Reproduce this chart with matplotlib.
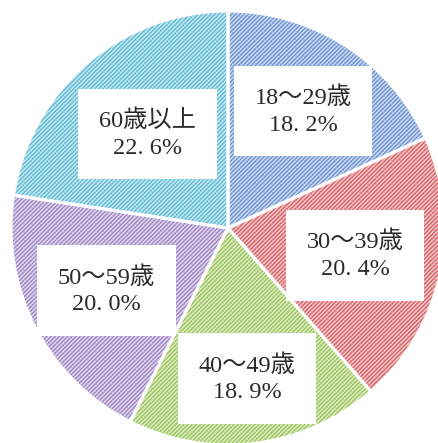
import numpy as np
import matplotlib
matplotlib.use("Agg")
import matplotlib.pyplot as plt

plt.rcParams['font.family'] = ['Liberation Serif', 'Noto Sans CJK JP', 'DejaVu Sans']
plt.rcParams['hatch.linewidth'] = 0.9

# age groups and shares (%)
labels = ["18～29歳", "30～39歳", "40～49歳", "50～59歳", "60歳以上"]
shares = [18.2, 20.4, 18.9, 20.0, 22.6]
face_colors = ["#c8d6ef", "#f2c2c2", "#dbebbf", "#ddd2ea", "#c2e7f1"]
hatch_colors = ["#6a91d0", "#d65f64", "#97c357", "#9a83c2", "#58b9d3"]
# distance of each label from the centre (fraction of radius)
label_r = [0.64, 0.60, 0.70, 0.63, 0.57]

fig = plt.figure(figsize=(4.38, 4.43), dpi=100)
ax = fig.add_axes([0, 0, 1, 1])

wedges, _ = ax.pie(shares, startangle=90, counterclock=False, radius=1.0,
                   colors=face_colors, wedgeprops=dict(linewidth=0))
for w, hc in zip(wedges, hatch_colors):
    w.set_edgecolor(hc)
    w.set_hatch("////////")
    w.set_linewidth(0)

# white separators between slices
ax.pie(shares, startangle=90, counterclock=False, radius=1.0,
       colors=["none"] * len(shares),
       wedgeprops=dict(linewidth=2.2, edgecolor="white"))

for w, lab, val, r in zip(wedges, labels, shares, label_r):
    ang = np.deg2rad((w.theta1 + w.theta2) / 2)
    x, y = r * np.cos(ang), r * np.sin(ang)
    txt = f"{lab}\n{val:.1f}%".replace(".", ". ")
    ax.text(x, y, txt, ha="center", va="center", fontsize=17.5,
            color="#2a2a2a", linespacing=1.35,
            bbox=dict(boxstyle="square,pad=0.85", fc="white", ec="none"))

px = 217.0
ax.set_xlim(-228 / px, (438 - 228) / px)
ax.set_ylim(-(443 - 228) / px, 228 / px)
ax.set_aspect("auto")
ax.axis("off")

fig.savefig("out.png", dpi=100, facecolor="white")
